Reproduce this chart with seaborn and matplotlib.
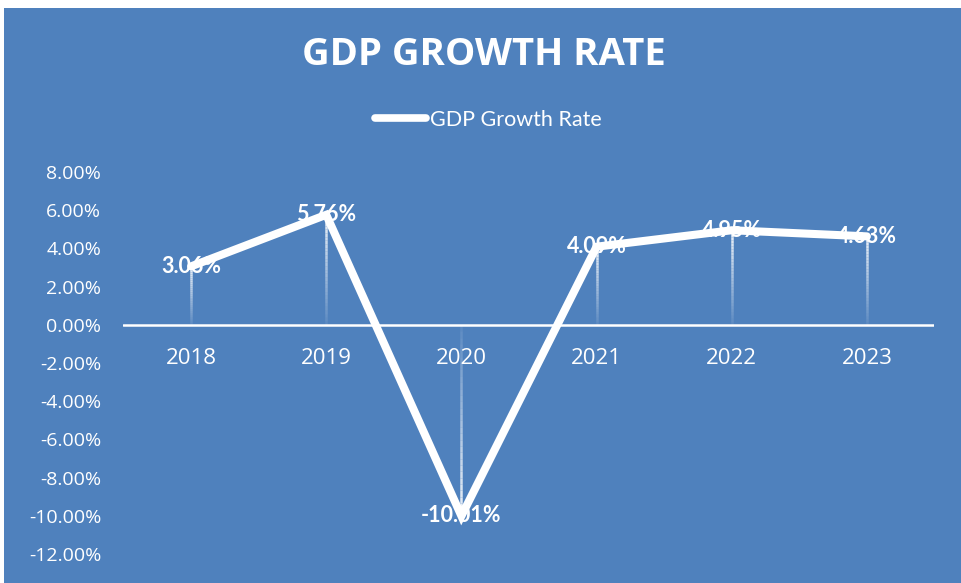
import numpy as np
import pandas as pd
import matplotlib
matplotlib.use("Agg")
import matplotlib.pyplot as plt
import seaborn as sns
from matplotlib.collections import LineCollection
from matplotlib.patches import Rectangle
from matplotlib.lines import Line2D

years = ["2018", "2019", "2020", "2021", "2022", "2023"]
growth = [3.06, 5.76, -10.01, 4.09, 4.95, 4.63]
value_labels = ["3.06%", "5.76%", "-10.01%", "4.09%", "4.95%", "4.63%"]
y_ticks = [8, 6, 4, 2, 0, -2, -4, -6, -8, -10, -12]
title_text = "GDP GROWTH RATE"
series_name = "GDP Growth Rate"

BLUE = "#4F81BD"
sns.set_style("white")
plt.rcParams['font.family'] = ['Lato', 'DejaVu Sans']
OPEN = ["Open Sans", "DejaVu Sans"]

df = pd.DataFrame({"year": years, "growth": growth})
df["x"] = np.arange(len(years))

fig = plt.figure(figsize=(9.62, 5.83), dpi=100)
fig.patch.set_facecolor("white")
fig.patches.append(Rectangle((4 / 962, 0), 1 - 4 / 962, 1 - 8 / 583,
                             transform=fig.transFigure, facecolor=BLUE,
                             edgecolor="none", zorder=-10))

ax = fig.add_axes([123.5 / 962, 1 - 554 / 583, (934.5 - 123.5) / 962, (554 - 172) / 583])
ax.set_facecolor("none")
ax.set_zorder(5)

# gradient drop lines
for xi, yi in zip(df["x"], df["growth"]):
    n = 30
    ys = np.linspace(yi, 0, n + 1)
    segs = [[(xi, ys[k]), (xi, ys[k + 1])] for k in range(n)]
    alphas = np.linspace(0.9, 0.08, n)
    cols = [(1, 1, 1, a) for a in alphas]
    ax.add_collection(LineCollection(segs, colors=cols, linewidths=1.8, zorder=2))

ax.axhline(0, color="white", lw=1.8, zorder=1)

sns.lineplot(data=df, x="x", y="growth", ax=ax, color="white", lw=5.8,
             zorder=3, legend=False, solid_joinstyle="miter")

for xi, yi, lab in zip(df["x"], df["growth"], value_labels):
    ax.text(xi, yi, lab, ha="center", va="center", color="white",
            fontsize=15.5, fontweight="bold", zorder=4)

ax.set_xlim(-0.5, len(years) - 0.5)
ax.set_ylim(-12, 8)
ax.set_yticks(y_ticks)
ax.set_yticklabels([f"{v:.2f}%" for v in y_ticks], color="white", fontsize=14,
                   family=OPEN)
ax.set_xticks([])
for xi, lab in zip(df["x"], years):
    ax.text(xi, -1.75, lab, ha="center", va="center",
            color="white", fontsize=16, zorder=4, family=OPEN)
for s in ax.spines.values():
    s.set_visible(False)
ax.tick_params(axis="y", length=0, pad=16)
ax.set_xlabel("")
ax.set_ylabel("")

fig.text(484 / 962, 1 - 55 / 583, title_text, ha="center", va="center",
         color="white", fontsize=27.5, fontweight="bold", family=OPEN)

# legend
leg_handle = Line2D([], [], color="white", lw=5.5, solid_capstyle="round")
fig.legend([leg_handle], [series_name], loc="center",
           bbox_to_anchor=(488 / 962, 1 - 120 / 583), frameon=False,
           labelcolor="white", fontsize=15.5, handlelength=2.4, handletextpad=0.15)

fig.savefig("out.png", dpi=100)
